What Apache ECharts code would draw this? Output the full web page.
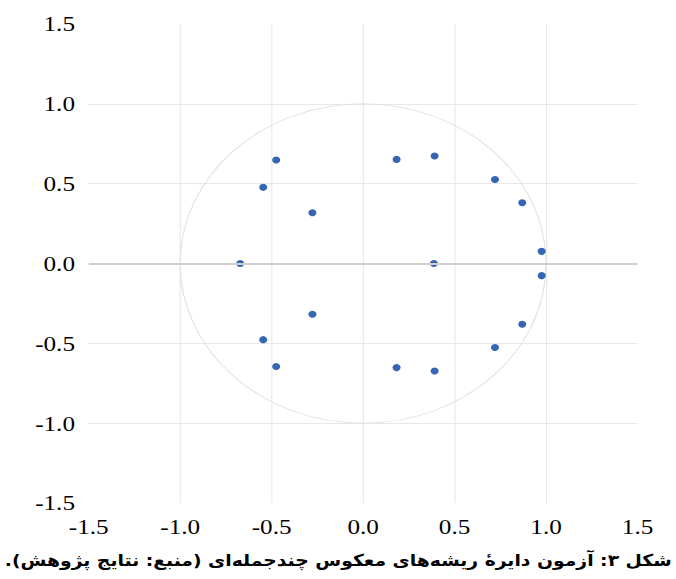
<!DOCTYPE html>
<html>
<head>
<meta charset="utf-8">
<script src="https://cdn.jsdelivr.net/npm/echarts@6/dist/echarts.min.js"></script>
<style>
html, body { margin: 0; padding: 0; background: #ffffff; overflow: hidden; }
#main { width: 590.6px; height: 579px; transform: scaleX(1.1446); transform-origin: 0 0; }
</style>
</head>
<body>
<div id="main"></div>
<script>
// Inverse roots of the AR characteristic polynomial
const rootsReal = [-0.475, -0.546, -0.277, -0.672, -0.277, -0.546, -0.475,
                   0.183, 0.391, 0.721, 0.870, 0.976, 0.387, 0.976, 0.870, 0.721, 0.183, 0.391];
const rootsImag = [0.648, 0.477, 0.318, 0.000, -0.318, -0.477, -0.645,
                   0.652, 0.673, 0.526, 0.381, 0.076, 0.000, -0.076, -0.381, -0.526, -0.652, -0.673];
// unit circle: centre (0,0), radius 1
const unitCircle = [[0, 0, 1]];
const axisMin = -1.5, axisMax = 1.5, axisStep = 0.5;
const captionText = 'شکل ۳: آزمون دایرهٔ ریشه‌های معکوس چندجمله‌ای (منبع: نتایج پژوهش).';

const points = rootsReal.map((r, i) => [r, rootsImag[i]]);

const chart = echarts.init(document.getElementById('main'), null, { renderer: 'svg' });

const labelFont = { fontFamily: 'Liberation Serif, serif', fontSize: 22, color: '#000000' };

chart.setOption({
  animation: false,
  backgroundColor: '#ffffff',
  title: {
    text: '\u202B' + captionText + '\u202C',
    left: 'center',
    top: 547,
    textStyle: { fontFamily: 'DejaVu Sans, sans-serif', fontWeight: 'bold', fontSize: 16.4, color: '#000000' }
  },
  grid: { left: 77.5, right: 34, top: 24, bottom: 76, containLabel: false },
  xAxis: {
    type: 'value', min: axisMin, max: axisMax, interval: axisStep,
    axisLine: { show: false }, axisTick: { show: false },
    axisLabel: Object.assign({ margin: 13, formatter: v => v.toFixed(1) }, labelFont),
    splitLine: { show: true, showMinLine: false, showMaxLine: false, lineStyle: { color: '#e8e8e8', width: 1 } }
  },
  yAxis: {
    type: 'value', min: axisMin, max: axisMax, interval: axisStep,
    axisLine: { show: false }, axisTick: { show: false },
    axisLabel: Object.assign({ margin: 12, formatter: v => v.toFixed(1) }, labelFont),
    splitLine: { show: true, showMinLine: false, showMaxLine: false, lineStyle: { color: '#e8e8e8', width: 1 } }
  },
  series: [
    {
      type: 'custom',
      data: unitCircle,
      silent: true,
      clip: false,
      z: 1,
      renderItem: function (params, api) {
        const c = api.coord([api.value(0), api.value(1)]);
        const s = api.size([api.value(2), api.value(2)]);
        return {
          type: 'ellipse',
          shape: { cx: c[0], cy: c[1], rx: s[0], ry: s[1] },
          style: { fill: 'none', stroke: '#e2e2e2', lineWidth: 1 }
        };
      }
    },
    {
      type: 'scatter',
      data: points,
      symbol: 'circle',
      symbolSize: 7,
      z: 3,
      itemStyle: { color: '#3565b3', opacity: 1 },
      markLine: {
        silent: true,
        symbol: ['none', 'none'],
        label: { show: false },
        lineStyle: { color: '#cfcfcf', width: 2, type: 'solid' },
        data: [{ yAxis: 0 }]
      }
    }
  ]
});
</script>
</body>
</html>
